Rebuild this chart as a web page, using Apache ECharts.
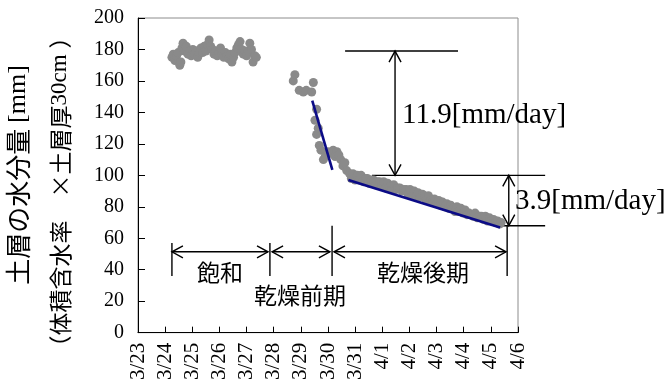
<!DOCTYPE html>
<html><head><meta charset="utf-8">
<script src="https://cdn.jsdelivr.net/npm/echarts@6/dist/echarts.min.js"></script>
<style>html,body{margin:0;padding:0;background:#fff}#c{width:670px;height:383px}</style>
</head><body><div id="c"></div>
<script>
// x values are days after 3/23
const dateLabels = ['3/23','3/24','3/25','3/26','3/27','3/28','3/29','3/30','3/31','4/1','4/2','4/3','4/4','4/5','4/6'];

// 飽和 (saturated)
const satX = [1.25,1.30,1.36,1.42,1.48,1.54,1.58,1.62,1.66,1.72,1.78,1.84,1.90,1.96,2.02,2.08,2.14,2.20,2.26,2.32,2.38,2.44,2.50,2.56,2.62,2.68,2.74,2.80,2.86,2.92,2.98,3.04,3.10,3.16,3.22,3.28,3.34,3.40,3.46,3.52,3.58,3.64,3.70,3.76,3.82,3.88,3.94,4.00,4.06,4.12,4.18,4.24,4.30,4.36];
const satY = [175,177,173,176,178,170,172,181,184,179,182,177,179,176,180,177,179,175,178,181,178,182,179,183,186,182,180,177,179,176,178,181,177,175,178,176,174,177,172,175,178,181,183,185,180,177,179,176,179,184,180,172,176,175];

// 乾燥前期 (early drying)
const preX = [5.72,5.78,5.94,6.09,6.20,6.40,6.46,6.52,6.58,6.58,6.64,6.68,6.74,6.83,6.90,7.00,7.08,7.19,7.26,7.33,7.40,7.47,7.55,7.62,7.69];
const preY = [160,164,154,153,154,153,159,135,142,126,130,119,116,110,112,115,114,116,112,115,113,110,106,108,103];

// 乾燥後期 (late drying)
const lateX = [7.80,7.86,7.92,8.00,8.08,8.15,8.22,8.30,8.38,8.45,8.52,8.60,8.68,8.75,8.82,8.90,8.98,9.05,9.12,9.20,9.28,9.35,9.42,9.50,9.58,9.65,9.72,9.80,9.88,9.95,10.02,10.10,10.18,10.25,10.32,10.40,10.48,10.55,10.62,10.70,10.78,10.85,10.92,11.00,11.08,11.15,11.22,11.30,11.38,11.45,11.52,11.60,11.68,11.75,11.82,11.90,11.98,12.05,12.12,12.20,12.28,12.35,12.42,12.50,12.58,12.65,12.72,12.80,12.88,12.95,13.02,13.10,13.18,13.25,13.32,13.38];
const lateY = [101,98,101,97,100,97,100,96,98,98,95,97,97,94,96,96,93,96,92,95,93,91,94,91,92,92,90,91,91,88,91,87,90,87,89,86,88,87,84,87,84,83,85,82,84,81,83,80,82,79,81,79,77,80,77,79,76,78,75,76,75,74,76,73,74,74,72,74,71,73,71,72,70,71,69,70];

// fitted lines
const fit1X = [6.42, 7.16], fit1Y = [147.5, 103.5];
const fit2X = [7.75, 13.34], fit2Y = [97.1, 66.9];

// annotation segments: x1, y1, x2, y2, arrowAtStart, arrowAtEnd
const annoSegments = [
  [7.63,179,11.79,179,0,0],
  [9.47,179,9.47,100,1,1],
  [8.62,100,15.0,100,0,0],
  [13.45,68,15.0,68,0,0],
  [13.66,100,13.66,68,1,1],
  [1.25,57,1.25,36,0,0],
  [4.86,57,4.86,36,0,0],
  [7.15,68,7.15,36,0,0],
  [13.6,68,13.6,36,0,0],
  [1.25,51.4,4.79,51.4,1,1],
  [4.94,51.4,7.07,51.4,1,1],
  [7.22,51.4,13.56,51.4,1,1]
];
// annotation texts
const annoTexts = ['11.9[mm/day]','3.9[mm/day]','飽和','乾燥前期','乾燥後期'];
const annoTextX = [9.73, 13.89, 3.02, 5.97, 10.5];
const annoTextY = [138.4, 83.4, 38.1, 23.5, 38.1];
const annoTextKind = ['num','num','jp','jp','jp'];

function zip(a, b) { return a.map((v, i) => [v, b[i]]); }

const chart = echarts.init(document.getElementById('c'), null, {renderer: 'canvas'});
const SERIF = 'Liberation Serif';
const JP = 'Noto Sans CJK JP';

chart.setOption({
  animation: false,
  grid: {left: 138, right: 152, top: 18, bottom: 50, show: true, borderColor: '#8c8c8c', borderWidth: 1, backgroundColor: 'transparent'},
  xAxis: {
    type: 'value', min: 0, max: 14, interval: 1,
    axisLine: {show: true, onZero: false, lineStyle: {color: '#000', width: 1}},
    axisTick: {show: true, inside: true, length: 6, lineStyle: {color: '#000'}},
    splitLine: {show: false},
    axisLabel: {rotate: 90, margin: 10, fontFamily: SERIF, fontSize: 21, color: '#000',
      formatter: v => dateLabels[Math.round(v)] || ''}
  },
  yAxis: {
    type: 'value', min: 0, max: 200, interval: 20,
    axisLine: {show: true, lineStyle: {color: '#000', width: 1}},
    axisTick: {show: true, inside: true, length: 7, lineStyle: {color: '#000'}},
    splitLine: {show: false},
    axisLabel: {margin: 14, fontFamily: SERIF, fontSize: 20, color: '#000'}
  },
  graphic: [
    {type: 'text', x: 18, y: 175, rotation: Math.PI / 2,
      style: {text: '{j|土層の水分量 }{t|[mm]}', align: 'center', verticalAlign: 'middle',
        rich: {j: {fontFamily: JP, fontSize: 26, fill: '#000'}, t: {fontFamily: SERIF, fontSize: 26, fill: '#000'}}}},
    {type: 'text', x: 60, y: 192, rotation: Math.PI / 2,
      style: {text: '{j|（体積含水率　×土層厚}{t|30cm }{j|）}', align: 'center', verticalAlign: 'middle',
        rich: {j: {fontFamily: JP, fontSize: 23, fill: '#000'}, t: {fontFamily: SERIF, fontSize: 23, fill: '#000'}}}}
  ],
  series: [
    {type: 'scatter', data: zip(satX, satY), symbolSize: 9, itemStyle: {color: '#8a8a8a', opacity: 1}, silent: true},
    {type: 'scatter', data: zip(preX, preY), symbolSize: 9, itemStyle: {color: '#8a8a8a', opacity: 1}, silent: true},
    {type: 'scatter', data: zip(lateX, lateY), symbolSize: 9, itemStyle: {color: '#8a8a8a', opacity: 1}, silent: true},
    {type: 'line', data: zip(fit1X, fit1Y), showSymbol: false, symbol: 'none', lineStyle: {color: '#0b0b86', width: 2.6}, silent: true},
    {type: 'line', data: zip(fit2X, fit2Y), showSymbol: false, symbol: 'none', lineStyle: {color: '#0b0b86', width: 2.6}, silent: true},
    {
      type: 'custom', silent: true, clip: false,
      encode: {x: [0, 2], y: [1, 3]},
      data: annoSegments,
      renderItem: function (params, api) {
        const p1 = api.coord([api.value(0), api.value(1)]);
        const p2 = api.coord([api.value(2), api.value(3)]);
        const dx = p2[0] - p1[0], dy = p2[1] - p1[1];
        const len = Math.hypot(dx, dy) || 1;
        const ux = dx / len, uy = dy / len, nx = -uy, ny = ux;
        const L = 11, W = 6;
        const st = {stroke: '#000', fill: null, lineWidth: 1.4};
        const children = [{type: 'line', shape: {x1: p1[0], y1: p1[1], x2: p2[0], y2: p2[1]}, style: st}];
        function head(p, sx, sy) {
          return {type: 'polyline', shape: {points: [[p[0] - sx * L + nx * W, p[1] - sy * L + ny * W], [p[0], p[1]], [p[0] - sx * L - nx * W, p[1] - sy * L - ny * W]]}, style: st};
        }
        if (api.value(4)) children.push(head(p1, -ux, -uy));
        if (api.value(5)) children.push(head(p2, ux, uy));
        return {type: 'group', children: children};
      }
    },
    {
      type: 'custom', silent: true, clip: false,
      data: annoTextX.map((x, i) => [x, annoTextY[i], i]),
      renderItem: function (params, api) {
        const i = api.value(2);
        const p = api.coord([api.value(0), api.value(1)]);
        const isNum = annoTextKind[i] === 'num';
        return {type: 'text', x: p[0], y: p[1], style: {
          text: annoTexts[i], fill: '#000',
          font: isNum ? '29px "Liberation Serif"' : '23px "Noto Sans CJK JP"',
          align: isNum ? 'left' : 'center', verticalAlign: 'middle'}};
      }
    }
  ]
});
</script>
</body></html>
